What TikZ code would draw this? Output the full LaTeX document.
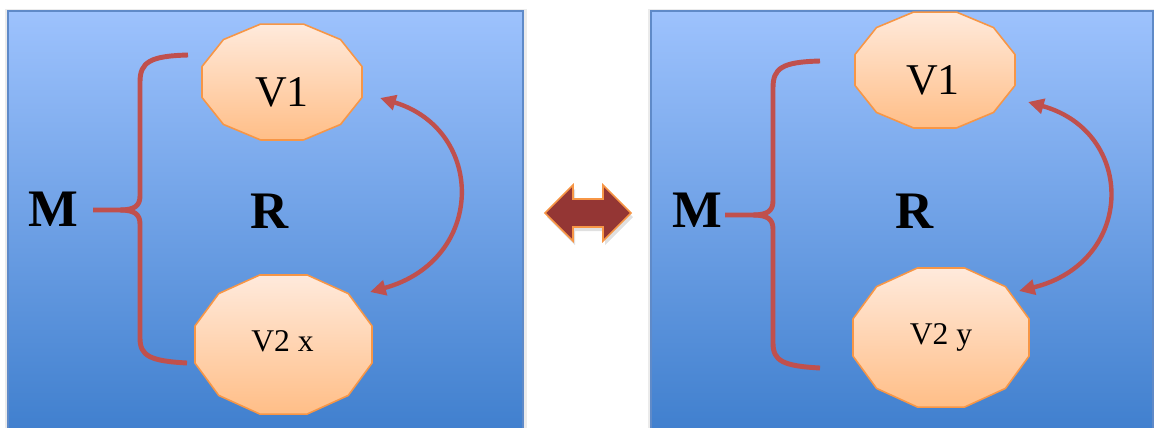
\documentclass[tikz,border=0pt]{standalone}
\usepackage{fontspec}
\setmainfont{Liberation Serif}
\usetikzlibrary{arrows.meta,calc}
\definecolor{paneltop}{RGB}{157,194,253}
\definecolor{panelbot}{RGB}{62,126,205}
\definecolor{paneledge}{RGB}{95,138,200}
\definecolor{peachtop}{RGB}{255,234,220}
\definecolor{peachbot}{RGB}{255,190,135}
\definecolor{orangeline}{RGB}{247,150,70}
\definecolor{bracered}{RGB}{192,80,77}
\definecolor{darkred}{RGB}{148,54,52}
\tikzset{
 panel/.style={top color=paneltop, bottom color=panelbot, draw=paneledge, line width=0.6pt},
 panelshadow/.style={fill=black, opacity=0.08},
 vshape/.style={top color=peachtop, bottom color=peachbot, draw=orangeline, line width=0.9pt, line join=round},
 bigtxt/.style={font=\fontsize{25}{30}\selectfont, anchor=base, inner sep=0pt},
 midtxt/.style={font=\fontsize{18}{22}\selectfont, anchor=base, inner sep=0pt},
 boldtxt/.style={font=\fontsize{30}{36}\selectfont\bfseries, anchor=base, inner sep=0pt},
 brace/.style={draw=bracered, line width=2.8pt, line join=round},
 swaparrow/.style={draw=bracered, line width=2.5pt, {Triangle[length=9pt,width=8.5pt]}-{Triangle[length=9pt,width=8.5pt]}},
 dblarrow/.style={fill=darkred, draw=orangeline, line width=0.9pt, line join=miter},
 dblshadow/.style={fill=black, opacity=0.12},
}
\newcommand\dodec[3]{\draw[vshape] ($(#1)+(15:#2 and #3)$) \foreach \a in {45,75,...,345}{ -- ($(#1)+(\a:#2 and #3)$)} -- cycle;}
\begin{document}
\begin{tikzpicture}[x=0.02cm, y=-0.02cm]
\useasboundingbox (0,0) rectangle (1154,427);
\fill[white] (0,0) rectangle (1154,427);
\clip (0,0) rectangle (1154,427);
% panels
\fill[panelshadow] (5,9) rectangle (527,440);
\fill[panelshadow] (648,9) rectangle (1160,440);
\path[panel] (8,11) rectangle (523,440);
\path[panel] (651,11) rectangle (1153,440);
% middle double arrow
\fill[dblshadow] (547,217) -- (575,189) -- (575,203) -- (605,203) -- (605,189) -- (633,217) -- (605,245) -- (605,231) -- (575,231) -- (575,245) -- cycle;
\draw[dblarrow] (545,213) -- (573,185) -- (573,199) -- (603,199) -- (603,185) -- (631,213) -- (603,241) -- (603,227) -- (573,227) -- (573,241) -- cycle;
% ---------- left panel ----------
\coordinate (cV1L) at (282,82);
\coordinate (cV2L) at (283.5,344.5);
\dodec{cV1L}{82.8}{60}
\dodec{cV2L}{91.6}{72}
\node[bigtxt] (v1L) at (282,106) {V1};
\node[midtxt] (v2L) at (282.5,351) {V2 x};
\node[boldtxt] (mL) at (53,226) {M};
\node[boldtxt] (rL) at (270,228) {R};
\coordinate (bLtop) at (188,55);
\coordinate (bLtip) at (93,210);
\coordinate (bLbot) at (187,363);
\draw[brace] (bLtop) .. controls (150,56) and (140,62) .. (140,82) -- (140,196) .. controls (140,206) and (134,210) .. (120,210) -- (bLtip);
\draw[brace] (120,210) .. controls (134,210) and (140,214) .. (140,224) -- (140,338) .. controls (140,356) and (150,361) .. (bLbot);
\coordinate (aL1) at (380,98);
\coordinate (aL2) at (370,292);
\draw[swaparrow] (aL1) .. controls (486,130) and (486,260) .. (aL2);
% ---------- right panel ----------
\coordinate (cV1R) at (935,70);
\coordinate (cV2R) at (941,337.5);
\dodec{cV1R}{82.8}{60}
\dodec{cV2R}{91.1}{72}
\node[bigtxt] (v1R) at (933,94) {V1};
\node[midtxt] (v2R) at (941,344) {V2 y};
\node[boldtxt] (mR) at (697.5,227) {M};
\node[boldtxt] (rR) at (915,228) {R};
\coordinate (bRtop) at (820,61);
\coordinate (bRtip) at (725,215);
\coordinate (bRbot) at (820,368);
\draw[brace] (bRtop) .. controls (782,62) and (773,68) .. (773,88) -- (773,201) .. controls (773,211) and (767,215) .. (753,215) -- (bRtip);
\draw[brace] (753,215) .. controls (767,215) and (773,219) .. (773,229) -- (773,343) .. controls (773,361) and (783,366) .. (bRbot);
\coordinate (aR1) at (1028,102);
\coordinate (aR2) at (1019,291);
\draw[swaparrow] (aR1) .. controls (1136,132) and (1136,262) .. (aR2);
\end{tikzpicture}
\end{document}
